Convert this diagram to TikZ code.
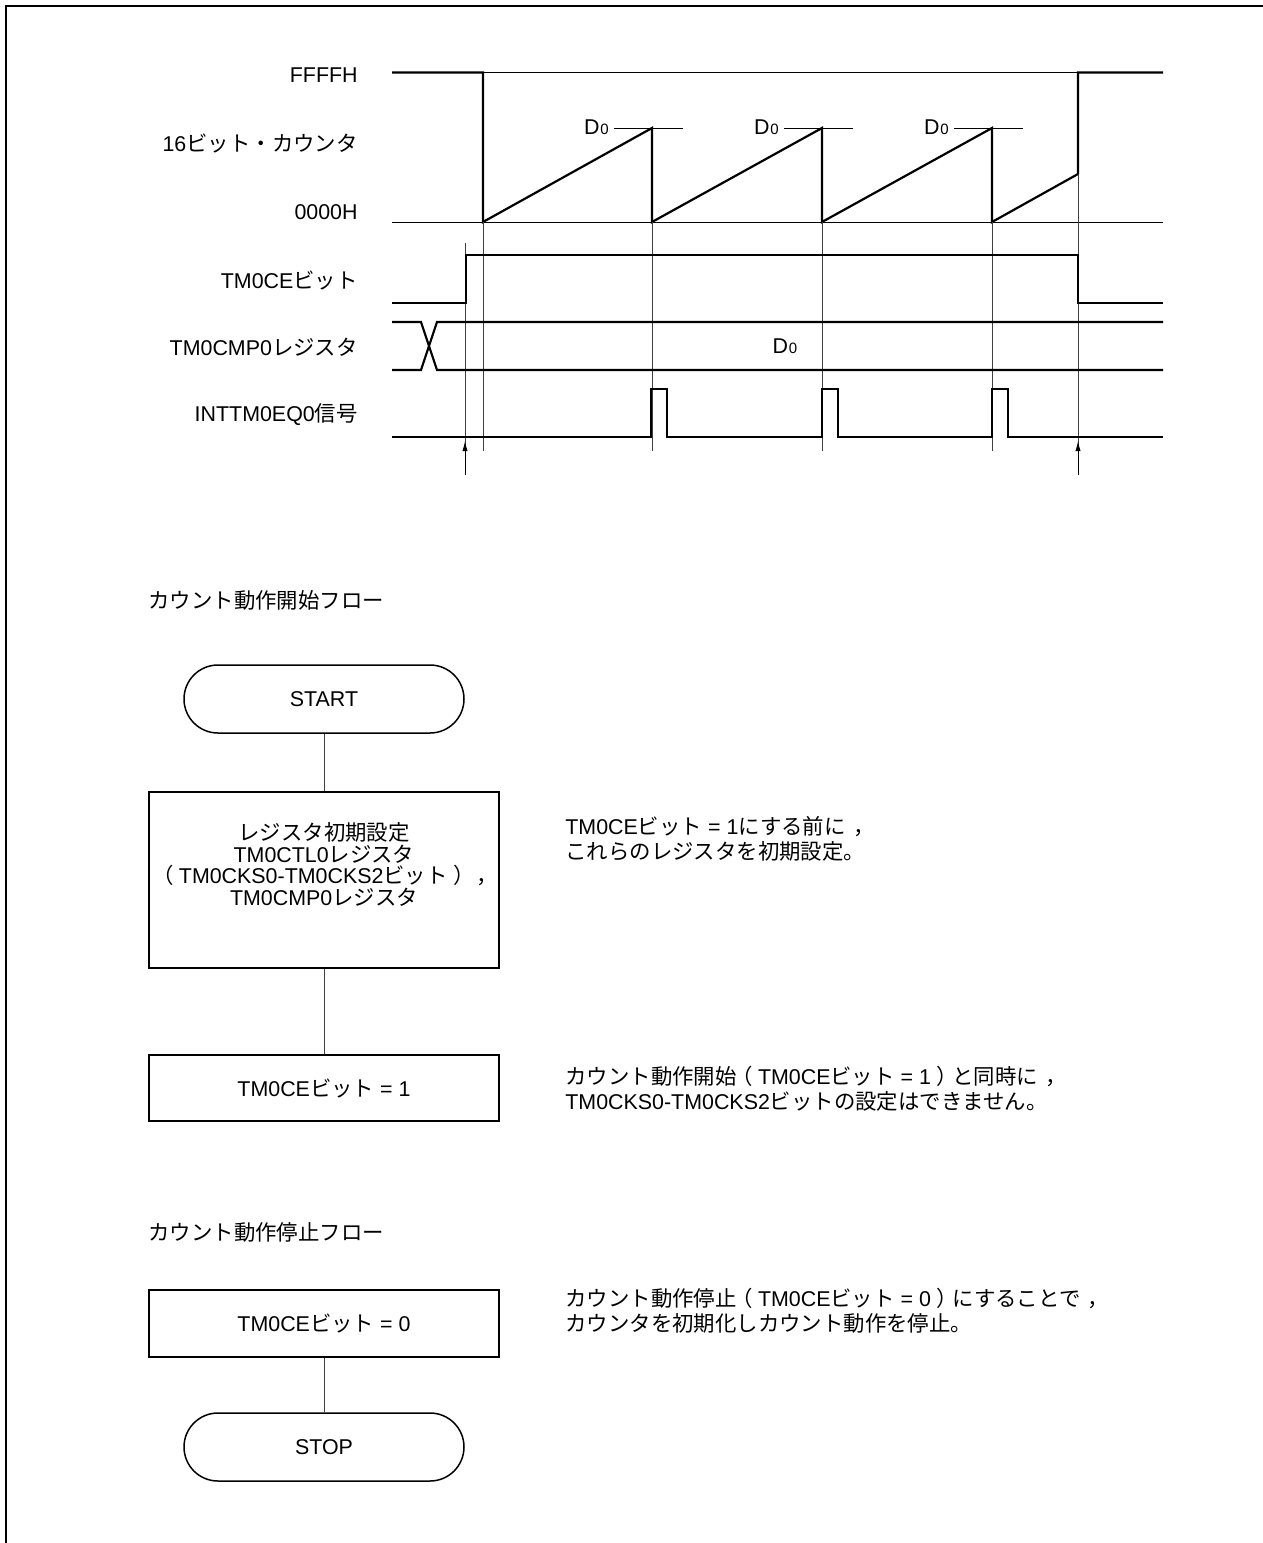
\documentclass[tikz,border=0pt]{standalone}
\usepackage{fontspec}
\setmainfont{Liberation Sans}
\newfontfamily\jpf{Noto Sans CJK JP}
\usetikzlibrary{shapes.misc,arrows.meta}
\newcommand\J[1]{{\jpf #1}}
\newcommand\LP{\makebox[1em][l]{\kern-0.25em\J{（}}}
\newcommand\RP{\makebox[1em][l]{\kern0.25em\J{）}}}
\newcommand\CM{\makebox[1em][l]{\kern0.35em\J{，}}}
\newcommand\Dz{D\kern0.4pt{\fontsize{7.5}{8}\selectfont 0}}
\begin{document}
\begin{tikzpicture}[x=0.5pt,y=-0.5pt,
  sig/.style={line width=1.1pt, line join=miter},
  thinref/.style={line width=0.45pt},
  guide/.style={line width=0.45pt, black!75},
  txt/.style={font=\fontsize{10.7}{12.5}\selectfont, inner sep=0pt},
  lbl/.style={txt, anchor=east},
  term/.style={rounded rectangle, draw, line width=0.75pt, minimum width=140pt, minimum height=34pt, txt},
  proc/.style={rectangle, draw, line width=1pt, minimum width=175pt, txt},
  link/.style={line width=0.45pt, black!75},
  note/.style={txt, anchor=west, align=left},
  uparrow/.style={-{Latex[length=5pt,width=2.6pt]}, line width=0.45pt}
]
\useasboundingbox (0,0) rectangle (1263,1543);
% frame
\draw[line width=0.75pt] (6,1543) -- (6,6) -- (1263,6);

% ---- timing chart labels
\node[lbl] (lF) at (358,75) {FFFFH};
\node[lbl] (lC) at (358,143) {16\J{ビット・カウンタ}};
\node[lbl] (l0) at (358,212) {0000H};
\node[lbl] (lCE) at (358,280) {TM0CE\J{ビット}};
\node[lbl] (lCMP) at (358,347) {TM0CMP0\J{レジスタ}};
\node[lbl] (lINT) at (358,415) {INTTM0EQ0\J{信号}};

% reference levels
\draw[thinref] (483,72.5) -- (1078,72.5);
\draw[thinref] (392,222) -- (1163,222);
\draw[thinref] (614,128) -- (683,128);
\draw[thinref] (784,128) -- (853,128);
\draw[thinref] (954,128) -- (1023,128);
\node[lbl] (d1) at (609,127) {\Dz};
\node[lbl] (d2) at (779,127) {\Dz};
\node[lbl] (d3) at (949,127) {\Dz};

% counter
\draw[sig] (392,72.5) -- (483,72.5) -- (483,222) -- (652,128) -- (652,222)
  -- (822,128) -- (822,222) -- (992,128) -- (992,222) -- (1078,174)
  -- (1078,72.5) -- (1163,72.5);

% guide lines
\draw[guide] (483,222) -- (483,451);
\draw[guide] (652,222) -- (652,451);
\draw[guide] (822,222) -- (822,451);
\draw[guide] (992,222) -- (992,451);
\draw[guide] (1078,174) -- (1078,475);
\draw[guide] (465,243) -- (465,475);
\coordinate (a1) at (465,475);
\coordinate (a1t) at (465,441);
\coordinate (a2) at (1078,475);
\coordinate (a2t) at (1078,441);
\draw[uparrow] (a1) -- (a1t);
\draw[uparrow] (a2) -- (a2t);

% TM0CE
\draw[sig] (392,303) -- (466,303) -- (466,255) -- (1078,255) -- (1078,303) -- (1163,303);

% TM0CMP0
\draw[sig] (392,322) -- (421,322) -- (437,370) -- (1163,370);
\draw[sig] (392,370) -- (421,370) -- (437,322) -- (1163,322);
\node[txt] (cmpd) at (785,346) {\Dz};

% INTTM0EQ0
\draw[sig] (392,437) -- (651,437) -- (651,389) -- (667,389) -- (667,437)
  -- (822,437) -- (822,389) -- (838,389) -- (838,437)
  -- (992,437) -- (992,389) -- (1008,389) -- (1008,437) -- (1163,437);

% ---- start flow
\node[txt, anchor=west] (h1) at (148,600) {\J{カウント動作開始フロー}};
\node[term] (start) at (324,699) {START};
\node[proc, minimum height=88pt] (init) at (324,880) {};
\node[txt, align=center, font=\fontsize{10.7}{10.85}\selectfont] (inittxt) at (324,864.5)
  {\J{レジスタ初期設定}\\TM0CTL0\J{レジスタ}\\\LP TM0CKS0-TM0CKS2\J{ビット}\RP\CM\\TM0CMP0\J{レジスタ}};
\node[proc, minimum height=33pt] (ce1) at (324,1088) {TM0CE\J{ビット} = 1};
\draw[link] (start.south) -- (init.north);
\draw[link] (init.south) -- (ce1.north);

\node[note] (n1) at (565,838.5) {TM0CE\J{ビット} = 1\J{にする前に}\CM\\\J{これらのレジスタを初期設定。}};
\node[note] (n2) at (565,1089) {\J{カウント動作開始}\LP TM0CE\J{ビット} = 1\RP\J{と同時に}\CM\\TM0CKS0-TM0CKS2\J{ビットの設定はできません。}};

% ---- stop flow
\node[txt, anchor=west] (h2) at (148,1232) {\J{カウント動作停止フロー}};
\node[proc, minimum height=33.5pt] (ce0) at (324,1323) {TM0CE\J{ビット} = 0};
\node[term] (stop) at (324,1447) {STOP};
\draw[link] (ce0.south) -- (stop.north);
\node[note] (n3) at (565,1311) {\J{カウント動作停止}\LP TM0CE\J{ビット} = 0\RP\J{にすることで}\CM\\\J{カウンタを初期化しカウント動作を停止。}};
\end{tikzpicture}
\end{document}
